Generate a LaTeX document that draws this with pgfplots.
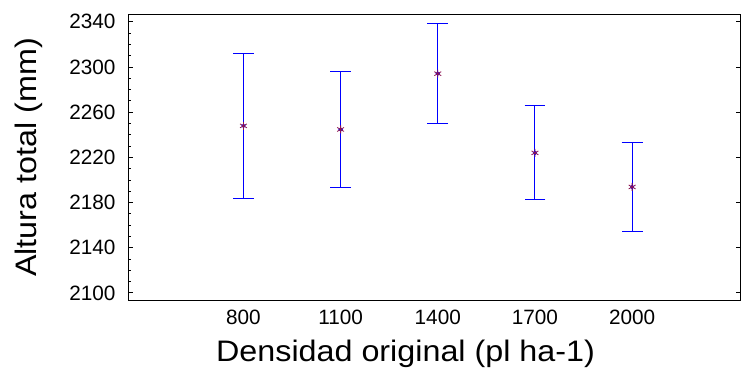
\documentclass[border=0pt]{standalone}
\usepackage{fontspec}
\setmainfont{Liberation Sans}
\newfontfamily\lblfont[FakeStretch=1.09]{Liberation Sans}
\usepackage{pgfplots}
\pgfplotsset{compat=1.18}
\definecolor{ebblue}{RGB}{0,0,255}
\definecolor{mk}{RGB}{140,20,80}
\begin{document}
\begin{tikzpicture}
\begin{axis}[
 name=main,
 scale only axis, width=617bp, height=288bp,
 xmin=444.9, xmax=2333.7, ymin=2093.6, ymax=2346.4,
 xtick={800,1100,1400,1700,2000},
 ytick={2100,2140,...,2340},
 minor y tick num=3,
 ytick pos=left,
 tick align=inside,
 major tick length=4.5bp, minor tick length=2.5bp,
 x tick style={draw=none},
 y tick style={black, line width=0.9bp},
 axis line style={black, line width=1.1bp},
 /pgf/number format/assume math mode=true,
 /pgf/number format/1000 sep={},
 tick label style={font=\fontsize{21}{23}\selectfont},
 xticklabel style={yshift=-6bp},
 yticklabel style={xshift=-9.5bp},
 xlabel={Densidad original (pl ha-1)},
 ylabel={Altura total (mm)},
 label style={font=\lblfont\fontsize{30}{33}\selectfont},
 xlabel style={at={(axis description cs:0.453,0)}, anchor=base, yshift=-62bp},
 ylabel style={at={(axis description cs:-0.1504,0.5)}, anchor=base},
]
\addplot[color=ebblue, only marks, mark=none,
  error bars/.cd, y dir=both, y explicit,
  error bar style={color=ebblue, line width=1bp},
  error mark options={rotate=90, mark size=10.5bp, color=ebblue, line width=1bp}]
 coordinates {
 (800,2247.9) +- (0,64.3)
 (1100,2244.7) +- (0,51.7)
 (1400,2294.1) +- (0,44.3)
 (1700,2224.0) +- (0,41.7)
 (2000,2193.8) +- (0,39.2)
 };
\addplot[color=mk, only marks, mark=asterisk, mark size=4bp,
  mark options={line width=0.8bp}]
 coordinates {
 (800,2247.9) (1100,2244.7) (1400,2294.1) (1700,2224.0) (2000,2193.8)
 };
\end{axis}
\begin{axis}[
 scale only axis, width=617bp, height=288bp,
 xmin=444.9, xmax=2333.7, ymin=2093.6, ymax=2346.4,
 axis line style={draw=none},
 xtick=\empty,
 ytick={2100,2140,...,2340},
 ytick pos=right, yticklabels={},
 tick align=inside,
 major tick length=4.5bp,
 y tick style={black, line width=0.9bp},
]
\end{axis}
\path (main.south west) ++(-129.5bp,-78bp) coordinate (bl);
\path (main.north east) ++(0.6bp,14.7bp) coordinate (tr);
\end{tikzpicture}
\end{document}
